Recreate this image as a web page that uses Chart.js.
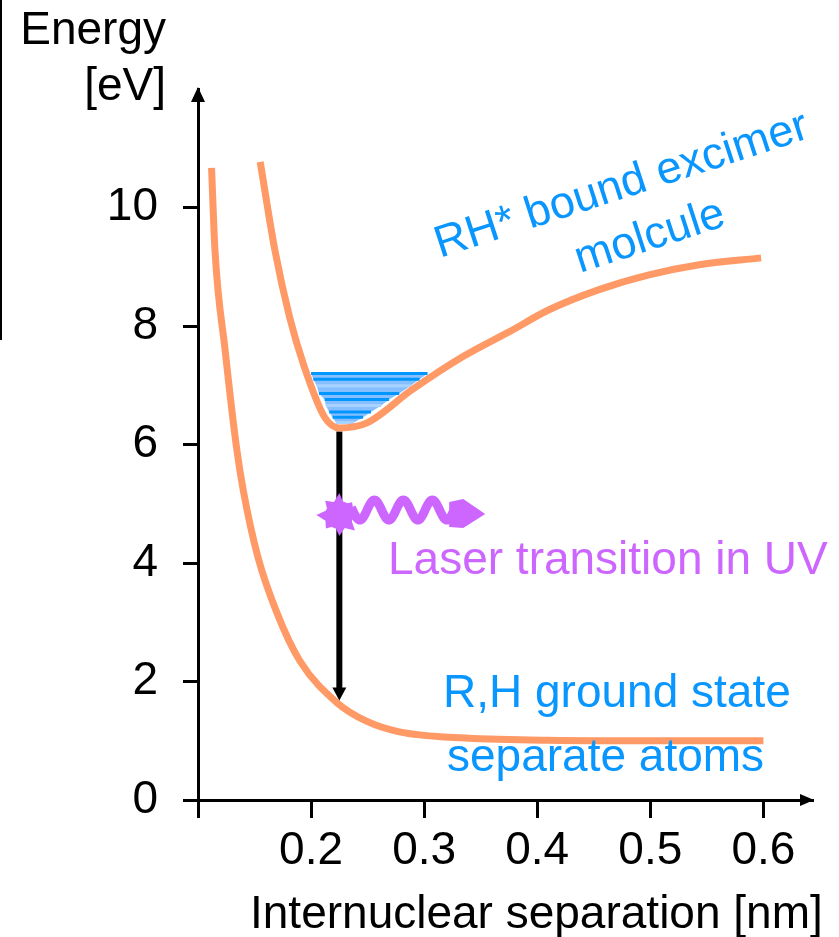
<!DOCTYPE html>
<html>
<head>
<meta charset="utf-8">
<title>Excimer potential curves</title>
<script src="https://cdn.jsdelivr.net/npm/chart.js@4"></script>
<style>
  html, body { margin: 0; padding: 0; background: #fff; }
  #wrap { width: 839px; height: 937px; }
</style>
</head>
<body>
<div id="wrap"><canvas id="chart" width="839" height="937"></canvas></div>
<script>
// axis ticks
const xTicks = [0.1, 0.2, 0.3, 0.4, 0.5, 0.6];
const xTickLabels = ['', '0.2', '0.3', '0.4', '0.5', '0.6'];
const yTicks = [0, 2, 4, 6, 8, 10];
const yTickLabels = ['0', '2', '4', '6', '8', '10'];

// RH* bound excimer curve (nm, eV)
const excimerX = [0.155, 0.168, 0.181, 0.194, 0.212, 0.225, 0.249, 0.289, 0.334, 0.375, 0.410, 0.454, 0.498, 0.542, 0.598];
const excimerE = [10.77, 9.28, 8.15, 7.31, 6.46, 6.28, 6.36, 6.92, 7.48, 7.90, 8.27, 8.61, 8.86, 9.03, 9.15];

// R,H ground state curve
const groundX = [0.112, 0.115, 0.124, 0.134, 0.140, 0.153, 0.170, 0.190, 0.223, 0.249, 0.278, 0.331, 0.410, 0.498, 0.600];
const groundE = [10.67, 9.28, 7.59, 5.96, 5.23, 4.10, 3.15, 2.35, 1.64, 1.33, 1.15, 1.05, 1.01, 1.00, 1.00];

// vibrational levels in the excimer well
const levelE = [7.20, 7.10, 6.99, 6.86, 6.76, 6.66, 6.55, 6.46, 6.37];
const levelLeft = [0.200, 0.202, 0.205, 0.207, 0.212, 0.213, 0.216, 0.219, 0.222];
const levelRight = [0.303, 0.296, 0.288, 0.278, 0.269, 0.262, 0.253, 0.246, 0.238];

// laser transition
const transitionX = 0.225;
const transitionFrom = 6.22;
const transitionTo = 1.68;
const photonE = 4.81;
const photonEndX = 0.354;

const FONT = '"Liberation Sans", Arial, sans-serif';
const ORANGE = '#ff9966';
const BLUE = '#0a96ff';
const PURPLE = '#cc66ff';

const pts = (xs, ys) => xs.map((x, i) => ({ x: x, y: ys[i] }));

const wellPts = pts(levelLeft, levelE).concat(pts(levelRight.slice().reverse(), levelE.slice().reverse()));

const datasets = [
  { data: pts(excimerX, excimerE), borderColor: ORANGE, borderWidth: 7, cubicInterpolationMode: 'monotone' },
  { data: pts(groundX, groundE), borderColor: ORANGE, borderWidth: 7, cubicInterpolationMode: 'monotone' },
  { data: [{ x: transitionX, y: transitionFrom }, { x: transitionX, y: transitionTo + 0.15 }], borderColor: '#000', borderWidth: 6 }
];
levelE.forEach((e, i) => {
  datasets.push({
    data: [{ x: levelLeft[i], y: e }, { x: levelRight[i], y: e }],
    borderColor: (i % 3 === 2) ? '#a8d2ff' : '#0096ff',
    borderWidth: 3
  });
});
datasets.push({ data: wellPts, borderWidth: 0, borderColor: 'rgba(0,0,0,0)', backgroundColor: '#86bfff', fill: { value: levelE[0] } });

const decor = {
  id: 'decor',
  afterDatasetsDraw(chart) {
    const ctx = chart.ctx;
    const xs = chart.scales.x, ys = chart.scales.y;
    const area = chart.chartArea;
    ctx.save();

    // axis arrow heads
    ctx.fillStyle = '#000';
    ctx.beginPath();
    ctx.moveTo(area.left, area.top - 2);
    ctx.lineTo(area.left - 7, area.top + 13);
    ctx.lineTo(area.left + 7, area.top + 13);
    ctx.closePath();
    ctx.fill();
    ctx.beginPath();
    ctx.moveTo(area.right + 2, area.bottom);
    ctx.lineTo(area.right - 12, area.bottom - 6);
    ctx.lineTo(area.right - 12, area.bottom + 6);
    ctx.closePath();
    ctx.fill();

    // transition arrow head
    const tx = xs.getPixelForValue(transitionX);
    const ty = ys.getPixelForValue(transitionTo);
    ctx.beginPath();
    ctx.moveTo(tx, ty);
    ctx.lineTo(tx - 7, ty - 13);
    ctx.lineTo(tx + 7, ty - 13);
    ctx.closePath();
    ctx.fill();

    // photon: burst, wave, head
    const cy = ys.getPixelForValue(photonE);
    const ex = xs.getPixelForValue(photonEndX);
    ctx.fillStyle = PURPLE;
    ctx.strokeStyle = PURPLE;
    const radii = [20, 13, 22, 14, 21, 12, 19, 15, 23, 13, 20, 14, 22, 12, 18, 15];
    ctx.beginPath();
    radii.forEach((r, i) => {
      const a = i * 2 * Math.PI / radii.length;
      const X = tx + r * Math.cos(a), Y = cy + r * Math.sin(a);
      if (i === 0) ctx.moveTo(X, Y); else ctx.lineTo(X, Y);
    });
    ctx.closePath();
    ctx.fill();
    ctx.beginPath();
    ctx.arc(tx, cy, 14, 0, 2 * Math.PI);
    ctx.fill();

    ctx.lineWidth = 9;
    ctx.beginPath();
    const w0 = tx + 12, w1 = ex - 30, per = 29, amp = 10, wy = cy - 5;
    for (let X = w0; X <= w1; X += 1) {
      const Y = wy - amp * Math.sin(2 * Math.PI * (X - (tx + 35 - per / 4)) / per);
      if (X === w0) ctx.moveTo(X, Y); else ctx.lineTo(X, Y);
    }
    ctx.stroke();
    ctx.beginPath();
    ctx.moveTo(ex - 36, cy - 13);
    ctx.lineTo(ex - 22, cy - 16);
    ctx.lineTo(ex, cy - 1);
    ctx.lineTo(ex - 22, cy + 13);
    ctx.lineTo(ex - 36, cy + 12);
    ctx.closePath();
    ctx.fill();

    // texts
    ctx.font = '46px ' + FONT;
    ctx.textBaseline = 'alphabetic';
    ctx.fillStyle = '#000';
    ctx.textAlign = 'right';
    ctx.fillText('Energy', 166, 44);
    ctx.fillText('[eV]', 166, 100);
    ctx.textAlign = 'left';
    ctx.fillText('Internuclear separation [nm]', 250, 928);

    ctx.fillStyle = PURPLE;
    ctx.fillText('Laser transition in UV', 388, 574);

    ctx.fillStyle = BLUE;
    ctx.fillText('R,H ground state', 443, 707);
    ctx.fillText('separate atoms', 447, 771);

    ctx.font = '45px ' + FONT;
    ctx.save();
    ctx.translate(440, 258);
    ctx.rotate(-18 * Math.PI / 180);
    ctx.fillText('RH* bound excimer', 0, 0);
    ctx.restore();
    ctx.save();
    ctx.translate(580, 273);
    ctx.rotate(-18 * Math.PI / 180);
    ctx.fillText('molcule', 0, 0);
    ctx.restore();

    // edge line from the source slide
    ctx.fillStyle = '#000';
    ctx.fillRect(0, 0, 2, 340);
    ctx.restore();
  }
};

new Chart(document.getElementById('chart'), {
  type: 'line',
  data: { datasets: datasets },
  options: {
    responsive: false,
    animation: false,
    elements: { point: { radius: 0 }, line: { tension: 0, borderCapStyle: 'butt' } },
    layout: { padding: { top: 89, right: 27, left: 0, bottom: 0 } },
    plugins: { legend: { display: false }, tooltip: { enabled: false } },
    scales: {
      x: {
        type: 'linear',
        min: 0.1,
        max: 0.643,
        afterBuildTicks: (s) => { s.ticks = xTicks.map(v => ({ value: v })); },
        afterFit: (s) => { s.height = 137; },
        grid: { drawOnChartArea: false, drawTicks: true, tickLength: 18, color: '#000', lineWidth: 3 },
        border: { display: true, color: '#000', width: 3 },
        ticks: {
          autoSkip: false, maxRotation: 0, padding: 6, color: '#000',
          font: { family: FONT, size: 46 },
          callback: (v, i) => xTickLabels[i]
        }
      },
      y: {
        type: 'linear',
        min: 0,
        max: 12,
        afterBuildTicks: (s) => { s.ticks = yTicks.map(v => ({ value: v })); },
        afterFit: (s) => { s.width = 198; },
        grid: { drawOnChartArea: false, drawTicks: true, tickLength: 15, color: '#000', lineWidth: 3 },
        border: { display: true, color: '#000', width: 3 },
        ticks: {
          autoSkip: false, padding: 25, color: '#000',
          font: { family: FONT, size: 46 },
          callback: (v, i) => yTickLabels[i]
        }
      }
    }
  },
  plugins: [decor]
});
</script>
</body>
</html>
